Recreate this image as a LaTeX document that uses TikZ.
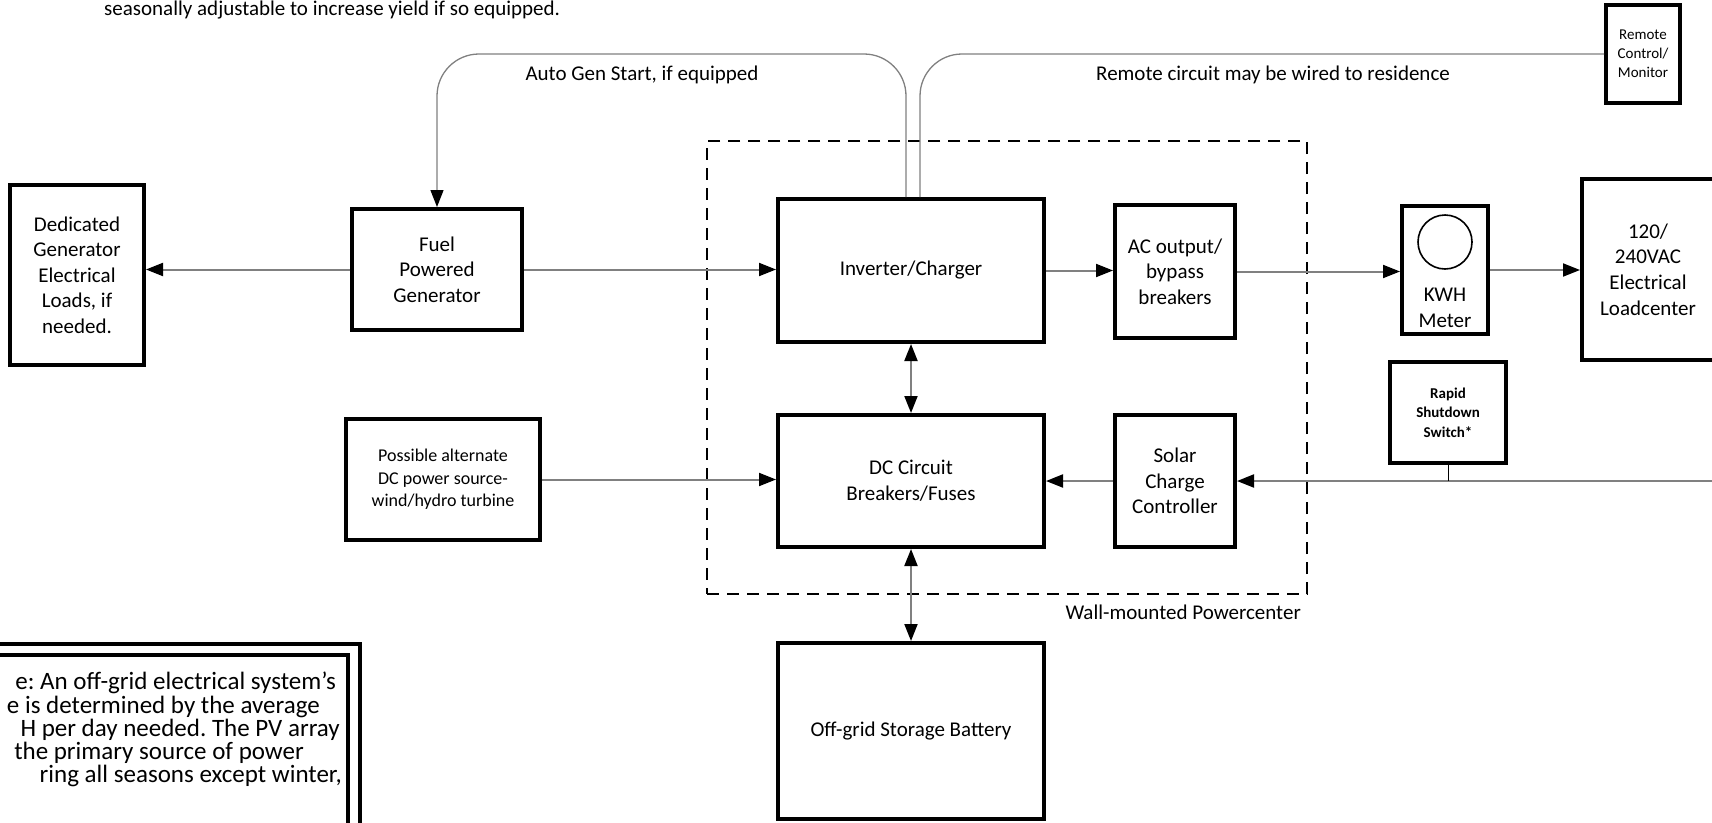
\documentclass[tikz,border=0pt]{standalone}
\usepackage{fontspec}
\setmainfont{Carlito}
\usetikzlibrary{arrows.meta}
\definecolor{ln}{HTML}{808080}
\frenchspacing
\begin{document}
\begin{tikzpicture}[x=1pt,y=-1pt,
  box/.style={draw=black,line width=4pt,rectangle,align=center,inner sep=2pt,
    font=\fontsize{21}{25.6}\selectfont},
  smallbox/.style={box,font=\fontsize{15}{19}\selectfont},
  lbl/.style={inner sep=0pt,font=\fontsize{21}{25.6}\selectfont},
  notetxt/.style={inner sep=0pt,anchor=east,font=\fontsize{25}{23.5}\selectfont},
  conn/.style={draw=ln,line width=2pt},
  wire/.style={draw=ln,line width=1.3pt},
  tipend/.style={-{Triangle[length=17pt,width=13pt,color=black]}},
  tipboth/.style={{Triangle[length=17pt,width=13pt,color=black]}-{Triangle[length=17pt,width=13pt,color=black]}}
]
\useasboundingbox (0,0) rectangle (1712,822);

% top text (last line of a note outside the picture)
\node[lbl,anchor=west] (toptext) at (104,10) {seasonally adjustable to increase yield if so equipped.};

% powercenter frame
\node[draw=black,line width=2pt,dash pattern=on 12pt off 8pt,minimum width=600pt,minimum height=453pt,inner sep=0pt] (pc) at (1007,367.5) {};
\node[lbl,anchor=east] (pclbl) at (1301,612) {Wall-mounted Powercenter};

% boxes
\node[box,minimum width=134pt,minimum height=180pt] (ded) at (77,275) {Dedicated\\Generator\\Electrical\\Loads, if\\needed.};
\node[box,minimum width=170pt,minimum height=121pt] (fuel) at (437,269.5) {Fuel\\Powered\\Generator};
\node[box,minimum width=194pt,minimum height=121pt,font=\fontsize{18}{22.5}\selectfont] (alt) at (443,479.5) {Possible alternate\\DC power source-\\wind/hydro turbine};
\node[box,minimum width=266pt,minimum height=143pt] (inv) at (911,270.5) {Inverter/Charger};
\node[box,minimum width=120pt,minimum height=133pt] (ac) at (1175,271.5) {AC output/\\bypass\\breakers};
\node[box,minimum width=266pt,minimum height=132pt] (dc) at (911,481) {DC Circuit\\Breakers/Fuses};
\node[box,minimum width=120pt,minimum height=132pt] (solar) at (1175,481) {Solar\\Charge\\Controller};
\node[box,minimum width=266pt,minimum height=176pt] (bat) at (911,731) {Off-grid Storage Battery};
\node[box,minimum width=86pt,minimum height=128pt] (kwh) at (1445,270) {};
\node[draw=black,line width=1.6pt,circle,minimum size=54pt,inner sep=0pt] (dial) at (1445,242) {};
\node[lbl,align=center] (kwhtxt) at (1445,308) {KWH\\Meter};
\node[box,minimum width=132pt,minimum height=181pt] (load) at (1648,269.5) {120/\\240VAC\\Electrical\\Loadcenter};
\node[smallbox,minimum width=116pt,minimum height=101pt,font=\bfseries\fontsize{15}{19.5}\selectfont] (rsd) at (1448,412.5) {Rapid\\Shutdown\\Switch*};
\node[smallbox,minimum width=74pt,minimum height=98pt] (remote) at (1643,54) {Remote\\Control/\\Monitor};

% note box (bottom left, mostly outside the picture)
\draw[line width=4pt] (-60,644) -- (360,644) -- (360,900);
\draw[line width=4pt] (-60,655) -- (348,655) -- (348,900);
\node[notetxt] (n1) at (336,683) {e: An off-grid electrical system’s};
\node[notetxt] (n2) at (320,707) {e is determined by the average};
\node[notetxt] (n3) at (340,730) {H per day needed. The PV array};
\node[notetxt] (n4) at (304,753) {the primary source of power};
\node[notetxt] (n5) at (342,776) {ring all seasons except winter,};

% connectors
\draw[conn,tipend] (fuel.west) -- (fuel.west -| ded.east);
\draw[conn,tipend] (fuel.east) -- (fuel.east -| inv.west);
\draw[conn,tipend] (inv.east) -- (inv.east -| ac.west);
\draw[conn,tipend] (ac.east) -- (ac.east -| kwh.west);
\draw[conn,tipend] (kwh.east) -- (kwh.east -| load.west);
\draw[conn,tipboth] (inv.south) -- (dc.north);
\draw[conn,tipboth] (dc.south) -- (bat.north);
\draw[conn,tipend] (alt.east) -- (alt.east -| dc.west);
\draw[conn,tipend] (solar.west) -- (dc.east);
\coordinate (pvin) at (1712,481);
\draw[conn,tipend] (pvin) -- (solar.east);
\draw[black,line width=1pt] (rsd.south) -- (rsd.south |- pvin);

% auto gen start and remote wiring
\coordinate (agR) at (906,54);
\coordinate (agL) at (437,54);
\draw[wire,tipend,rounded corners=42pt] (inv.north -| agR) -- (agR) -- (agL) -- (fuel.north);
\node[lbl] (aglbl) at (642,75) {Auto Gen Start, if equipped};
\coordinate (rmL) at (920,54);
\draw[wire,rounded corners=42pt] (inv.north -| rmL) -- (rmL) -- (rmL -| remote.west);
\node[lbl] (rmlbl) at (1273,75) {Remote circuit may be wired to residence};
\end{tikzpicture}
\end{document}
